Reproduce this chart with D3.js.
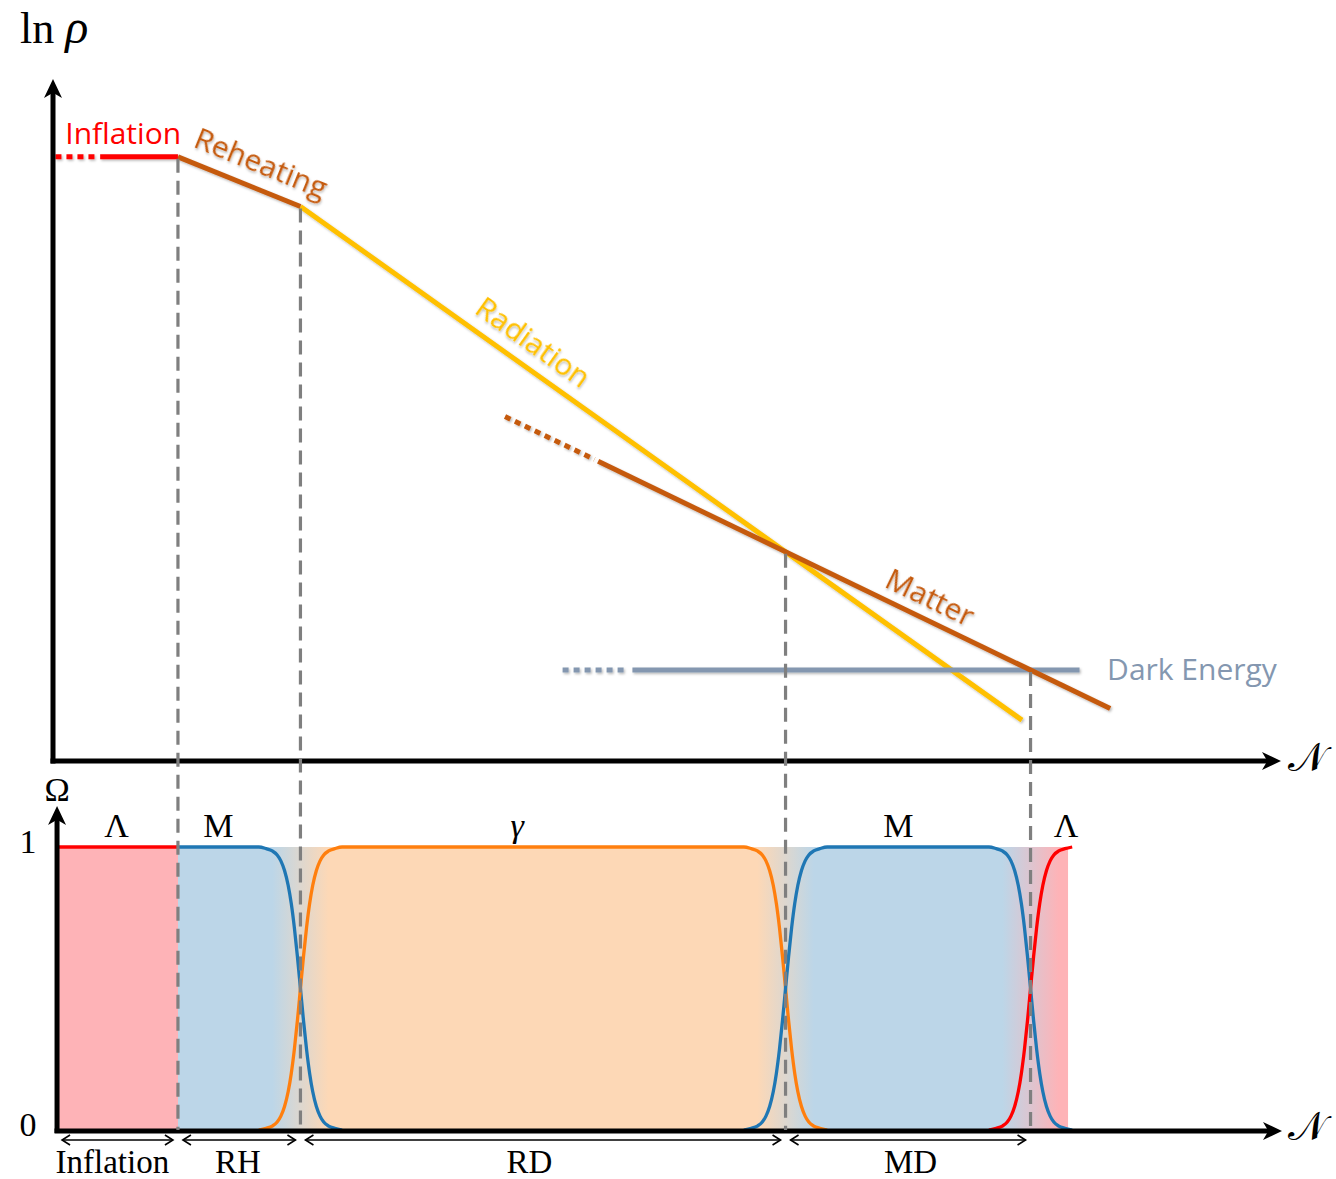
<!DOCTYPE html>
<html>
<head>
<meta charset="utf-8">
<script src="https://cdn.jsdelivr.net/npm/d3@7"></script>
<style>
  html, body { margin: 0; padding: 0; background: #fff; }
  svg { display: block; }
</style>
</head>
<body>
<svg id="chart" width="1336" height="1179"></svg>
<script>
// ---- data (arbitrary units: N = e-folds, ln rho = log energy density) ----
// Epoch boundaries: end of inflation, end of reheating, radiation-matter equality, matter-Λ equality
const epochBoundaries = [10.2, 20.2, 59.8, 79.8];
const boundaryLnRho   = [62.1, 57.0, 21.5, 9.35];

// Energy-density tracks [N, ln rho]
const inflationDotted  = [[0.2, 62.1], [3.6, 62.1]];
const inflationSolid   = [[3.85, 62.1], [10.2, 62.1]];
const reheatingSolid   = [[10.2, 62.1], [20.2, 57.0]];
const radiationSolid   = [[20.2, 57.0], [79.1, 4.2]];
const matterDotted     = [[36.9, 35.4], [44.2, 31.0]];
const matterSolid      = [[44.5, 30.8], [86.3, 5.4]];
const darkEnergyDotted = [[41.6, 9.35], [46.7, 9.35]];
const darkEnergySolid  = [[47.3, 9.35], [83.8, 9.35]];

// Density parameters: dominant component in each span of N
const omegaSpecies = ["Λ", "M", "γ", "M", "Λ"];
const omegaSpans   = [[0.33, 10.2], [10.2, 20.2], [20.2, 59.8], [59.8, 79.8], [79.8, 82.86]];
const smoothBoundaries = [20.2, 59.8, 79.8];
// Shape of Ω across a smooth handover [ΔN from boundary, Ω of the outgoing component]
const omegaProfile = [[-3.4, 1], [-2.8, 0.994], [-2.3, 0.986], [-1.9, 0.972], [-1.6, 0.951],
                      [-1.3, 0.917], [-1.0, 0.864], [-0.75, 0.80], [-0.5, 0.716], [-0.25, 0.614],
                      [0, 0.5], [0.25, 0.386], [0.5, 0.284], [0.75, 0.20], [1.0, 0.136],
                      [1.3, 0.083], [1.6, 0.049], [1.9, 0.028], [2.3, 0.014], [2.8, 0.006], [3.4, 0]];
const speciesLabelN = [5.2, 13.5, 37.9, 69.0, 82.7];
const omegaTicks = [0, 1];

// Named periods below the Ω axis
const periodNames  = ["Inflation", "RH", "RD", "MD"];
const periodSpans  = [[0.33, 10.2], [10.2, 20.2], [20.2, 59.8], [59.8, 79.8]];
const periodLabelN = [4.85, 15.1, 38.9, 70.0];

// ---- styling ----
const C = {
  inflation: "#ff0000", matter: "#c55a11", radiation: "#ffc000", darkEnergy: "#8497b0",
  dash: "#7f7f7f"
};
const speciesLine = { "Λ": "#ff0000", "M": "#1f77b4", "γ": "#ff7f0e" };
const speciesFill = { "Λ": "#feb3b7", "M": "#bcd6e8", "γ": "#fdd8b6" };
const serif = "'Liberation Serif', 'DejaVu Serif', serif";
const sans = "'Open Sans', Lato, 'Noto Sans', sans-serif";
const sansSize = 30;

// ---- scales ----
const x = d3.scaleLinear().domain([0, 100]).range([53, 1278]);
const yTop = d3.scaleLinear().domain([0, 70]).range([761, 80]);
const yBot = d3.scaleLinear().domain([0, 1]).range([1130, 847]);

const svg = d3.select("#chart");
const defs = svg.append("defs");

const shadow = defs.append("filter").attr("id", "soft").attr("x", "-10%").attr("y", "-50%")
  .attr("width", "120%").attr("height", "200%");
shadow.append("feDropShadow").attr("dx", 1.2).attr("dy", 1.5).attr("stdDeviation", 1.3)
  .attr("flood-color", "#000").attr("flood-opacity", 0.28);

// ---- lower panel: Ω background bands ----
const isSmooth = n => smoothBoundaries.includes(n);
const halfWidth = 2.3;
const stops = [];
omegaSpans.forEach(([a, b], i) => {
  const col = speciesFill[omegaSpecies[i]];
  if (isSmooth(a)) {
    const prev = speciesFill[omegaSpecies[i - 1]];
    stops.push([a, d3.interpolateRgb(prev, col)(0.5)]);
  }
  stops.push([isSmooth(a) ? a + halfWidth : a, col]);
  stops.push([isSmooth(b) ? b - halfWidth : b, col]);
});
const n0 = omegaSpans[0][0], n1 = omegaSpans[omegaSpans.length - 1][1];
const grad = defs.append("linearGradient").attr("id", "omegaBands")
  .attr("gradientUnits", "userSpaceOnUse")
  .attr("x1", x(n0)).attr("x2", x(n1)).attr("y1", 0).attr("y2", 0);
stops.forEach(([n, c]) => grad.append("stop")
  .attr("offset", (n - n0) / (n1 - n0)).attr("stop-color", c));

svg.append("rect")
  .attr("x", x(n0)).attr("y", yBot(1))
  .attr("width", x(n1) - x(n0)).attr("height", yBot(0) - yBot(1))
  .attr("fill", "url(#omegaBands)");

// ---- lower panel: Ω curves ----
function speciesCurve(i) {
  const [a, b] = omegaSpans[i];
  const pts = [];
  if (isSmooth(a)) omegaProfile.forEach(([d, w]) => pts.push([a + d, 1 - w]));
  else pts.push([a, 1]);
  const tail = [];
  if (isSmooth(b)) omegaProfile.forEach(([d, w]) => tail.push([b + d, w]));
  else tail.push([b, 1]);
  // keep N strictly increasing where a short span meets its end
  const last = pts[pts.length - 1][0];
  return pts.concat(tail.filter(p => p[0] > last));
}
const omegaLine = d3.line().x(d => x(d[0])).y(d => yBot(d[1])).curve(d3.curveMonotoneX);
omegaSpecies.forEach((s, i) => {
  svg.append("path").attr("d", omegaLine(speciesCurve(i)))
    .attr("fill", "none").attr("stroke", speciesLine[s]).attr("stroke-width", 3.3);
});

// species labels
svg.selectAll("text.species").data(omegaSpecies).join("text")
  .attr("class", "species")
  .attr("x", (d, i) => x(speciesLabelN[i]))
  .attr("y", yBot(1) - 10)
  .attr("text-anchor", "middle")
  .attr("font-family", serif).attr("font-size", 34)
  .attr("font-style", d => d === "γ" ? "italic" : "normal")
  .text(d => d);

// ---- upper panel: energy density tracks ----
const rhoLine = d3.line().x(d => x(d[0])).y(d => yTop(d[1]));
const tracks = [
  { pts: radiationSolid, color: C.radiation },
  { pts: darkEnergyDotted, color: C.darkEnergy, dotted: true },
  { pts: darkEnergySolid, color: C.darkEnergy },
  { pts: matterDotted, color: C.matter, dotted: true },
  { pts: matterSolid, color: C.matter },
  { pts: reheatingSolid, color: C.matter },
  { pts: inflationDotted, color: C.inflation, dotted: true },
  { pts: inflationSolid, color: C.inflation }
];
const trackG = svg.append("g").attr("filter", "url(#soft)");
tracks.forEach(t => {
  trackG.append("path").attr("d", rhoLine(t.pts))
    .attr("fill", "none").attr("stroke", t.color).attr("stroke-width", 5)
    .attr("stroke-dasharray", t.dotted ? "6 5" : null);
});

// labels along tracks
function along(pts, n, offset, text, color) {
  const [p, q] = pts;
  const ang = Math.atan2(yTop(q[1]) - yTop(p[1]), x(q[0]) - x(p[0])) * 180 / Math.PI;
  const t = (n - p[0]) / (q[0] - p[0]);
  const v = p[1] + t * (q[1] - p[1]);
  svg.append("text")
    .attr("transform", `translate(${x(n)},${yTop(v)}) rotate(${ang}) translate(0,${-offset})`)
    .attr("font-family", sans).attr("font-size", sansSize).attr("fill", color)
    .attr("filter", "url(#soft)")
    .text(text);
}
along(reheatingSolid, 10.89, 15, "Reheating", C.matter);
along(radiationSolid, 33.63, 14, "Radiation", C.radiation);
along(matterSolid, 67.36, 11.3, "Matter", C.matter);

svg.append("text").attr("x", x(1.0)).attr("y", yTop(62.1) - 13)
  .attr("font-family", sans).attr("font-size", sansSize).attr("fill", C.inflation)
  .text("Inflation");
svg.append("text").attr("x", x(86.05)).attr("y", yTop(9.35) + 10)
  .attr("font-family", sans).attr("font-size", sansSize).attr("fill", C.darkEnergy)
  .text("Dark Energy");

// ---- axes ----
function arrowAxis(x1, y1, x2, y2) {
  const g = svg.append("g");
  const ang = Math.atan2(y2 - y1, x2 - x1) * 180 / Math.PI;
  const L = 19, W = 9;
  const len = Math.hypot(x2 - x1, y2 - y1);
  g.append("line").attr("x1", x1).attr("y1", y1)
    .attr("x2", x2 - (x2 - x1) / len * 10)
    .attr("y2", y2 - (y2 - y1) / len * 10)
    .attr("stroke", "#000").attr("stroke-width", 5);
  g.append("path")
    .attr("d", `M0,0 L${-L},${-W} L${-L * 0.72},0 L${-L},${W} Z`)
    .attr("transform", `translate(${x2},${y2}) rotate(${ang})`)
    .attr("fill", "#000");
}
arrowAxis(x(0), yTop(0) + 2.5, x(0), 79);
arrowAxis(x(0) - 2.5, yTop(0), 1281, yTop(0));
arrowAxis(x(0.33), yBot(0) + 3, x(0.33), 806);
arrowAxis(x(0.33) - 2.5, yBot(0) + 1, 1282, yBot(0) + 1);

// axis titles
const lnrho = svg.append("text").attr("x", 20).attr("y", 43)
  .attr("font-family", serif).attr("font-size", 44);
lnrho.append("tspan").text("ln ");
lnrho.append("tspan").attr("font-style", "italic").attr("font-size", 48).text("ρ");

svg.append("text").attr("x", x(0.33)).attr("y", 801).attr("text-anchor", "middle")
  .attr("font-family", serif).attr("font-size", 34).text("Ω");

[yTop(0), yBot(0)].forEach(yy => {
  svg.append("text").attr("x", 1288).attr("y", yy + 10)
    .attr("font-family", "'DejaVu Serif', 'Liberation Serif', serif")
    .attr("font-size", 40).text("𝒩");
});

svg.selectAll("text.tick").data(omegaTicks).join("text")
  .attr("class", "tick")
  .attr("x", 28).attr("y", d => yBot(d) + 6)
  .attr("text-anchor", "middle")
  .attr("font-family", serif).attr("font-size", 34)
  .text(d => d);

// ---- period arrows and names ----
defs.append("marker").attr("id", "chev")
  .attr("markerUnits", "userSpaceOnUse").attr("markerWidth", 14).attr("markerHeight", 14)
  .attr("viewBox", "-12 -7 14 14").attr("refX", 0).attr("refY", 0)
  .attr("orient", "auto-start-reverse")
  .append("path").attr("d", "M-8,-5 L0,0 L-8,5")
  .attr("fill", "none").attr("stroke", "#000").attr("stroke-width", 1.6);

const arrowY = 1140;
periodSpans.forEach(([a, b], i) => {
  svg.append("line")
    .attr("x1", x(a) + 5).attr("x2", x(b) - 5)
    .attr("y1", arrowY).attr("y2", arrowY)
    .attr("stroke", "#000").attr("stroke-width", 1.6)
    .attr("marker-start", "url(#chev)").attr("marker-end", "url(#chev)");
  svg.append("text").attr("x", x(periodLabelN[i])).attr("y", 1173)
    .attr("text-anchor", "middle")
    .attr("font-family", serif).attr("font-size", 33)
    .text(periodNames[i]);
});

// ---- epoch boundary markers (drawn over both panels) ----
epochBoundaries.forEach((n, i) => {
  svg.append("line")
    .attr("x1", x(n)).attr("x2", x(n))
    .attr("y1", yTop(boundaryLnRho[i]) + 2).attr("y2", yBot(0))
    .attr("stroke", C.dash).attr("stroke-width", 3.2)
    .attr("stroke-dasharray", "14 8");
});
</script>
</body>
</html>
